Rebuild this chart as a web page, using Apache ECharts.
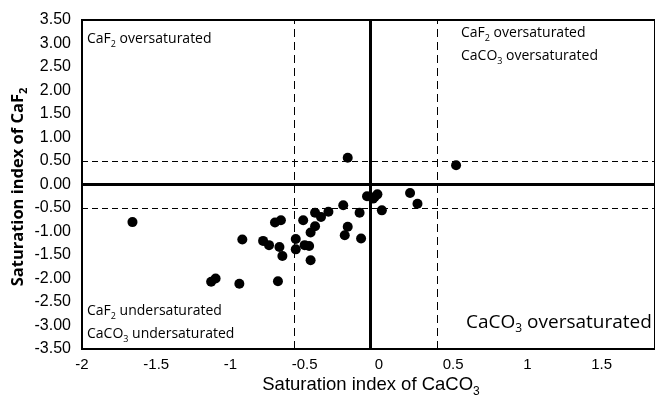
<!DOCTYPE html>
<html>
<head>
<meta charset="utf-8">
<style>
  html, body { margin: 0; padding: 0; background: #fff; }
  .chart { width: 655px; height: 403px; }
</style>
<script src="https://cdn.jsdelivr.net/npm/echarts@6.0.0/dist/echarts.min.js"></script>
</head>
<body>
<div class="chart"></div>
<script>
// saturation index of CaCO3 (x) and CaF2 (y)
var siCaCO3 = [-1.66, -0.21, 0.52, 0.21, 0.26, 0.02, -0.08, -0.04, -0.01, -0.03,
  -0.24, -0.13, -0.34, -0.39, -0.43, -0.51, -0.43, -0.46, -0.66, -0.70,
  -0.21, -0.23, -0.12, -0.92, -0.78, -0.74, -0.67, -0.56, -0.50, -0.47,
  -0.56, -0.65, -0.46, -0.68, -0.94, -1.13, -1.10];
var siCaF2 = [-0.80, 0.57, 0.41, -0.18, -0.41, -0.55, -0.25, -0.30, -0.21, -0.27,
  -0.44, -0.60, -0.58, -0.69, -0.60, -0.76, -0.89, -1.02, -0.76, -0.81,
  -0.90, -1.08, -1.15, -1.17, -1.20, -1.29, -1.33, -1.16, -1.29, -1.31,
  -1.38, -1.52, -1.61, -2.06, -2.11, -2.07, -2.00];
// guide lines
var vDashed = [-0.57, 0.39];
var vSolid = [-0.06];
var hDashed = [0.5, -0.5];
var hSolid = [0];
var xTicks = { min: -2, max: 1.86, step: 0.5 };
var yTicks = { min: -3.5, max: 3.5, step: 0.5 };

(function () {
  var myChart = echarts.init(document.querySelector('.chart'));
  var points = siCaCO3.map(function (v, i) { return [v, siCaF2[i]]; });

  var lines = [];
  vDashed.forEach(function (v) {
    lines.push({ xAxis: v, lineStyle: { color: '#000', width: 1, type: [8, 5] } });
  });
  hDashed.forEach(function (v) {
    lines.push({ yAxis: v, lineStyle: { color: '#000', width: 1, type: [6, 4] } });
  });
  vSolid.forEach(function (v) {
    lines.push({ xAxis: v, lineStyle: { color: '#000', width: 3, type: 'solid' } });
  });
  hSolid.forEach(function (v) {
    lines.push({ yAxis: v, lineStyle: { color: '#000', width: 3, type: 'solid' } });
  });

  // text styles for the quadrant notes (subscripts via rich text)
  var noteFont = "'Open Sans', sans-serif";
  var axisFont = "'Liberation Sans', Arial, sans-serif";
  function rich(size, font, weight) {
    return {
      n: { fontSize: size, fontFamily: font, fontWeight: weight, color: '#000', lineHeight: size + 6 },
      s: { fontSize: Math.round(size * 0.65), fontFamily: font, fontWeight: weight, color: '#000',
        verticalAlign: 'bottom', lineHeight: Math.round(size * 0.65) + 2 }
    };
  }
  function note(x, y, text, size) {
    return {
      type: 'text', left: x, top: y, silent: true,
      style: { text: text, rich: rich(size, noteFont, 'normal') }
    };
  }

  var option = {
    animation: false,
    grid: {
      left: 82,
      top: 20,
      right: -2,
      bottom: 54,
      show: true,
      borderColor: '#000',
      borderWidth: 2
    },
    xAxis: {
      type: 'value',
      min: xTicks.min,
      max: xTicks.max,
      interval: xTicks.step,
      axisLine: { show: true, onZero: false, lineStyle: { color: '#000', width: 2 } },
      axisTick: { show: false },
      splitLine: { show: false },
      axisLabel: {
        color: '#000',
        fontSize: 15,
        fontFamily: axisFont,
        margin: 8,
        showMaxLabel: false
      }
    },
    yAxis: {
      type: 'value',
      min: yTicks.min,
      max: yTicks.max,
      interval: yTicks.step,
      axisLine: { show: true, onZero: false, lineStyle: { color: '#000', width: 2 } },
      axisTick: { show: false },
      splitLine: { show: false },
      axisLabel: {
        color: '#000',
        fontSize: 16,
        fontFamily: axisFont,
        margin: 11,
        formatter: function (v) { return v.toFixed(2); }
      }
    },
    series: [{
      type: 'scatter',
      data: points,
      symbol: 'circle',
      symbolSize: 10,
      itemStyle: { color: '#000', opacity: 1 },
      markLine: {
        silent: true,
        symbol: 'none',
        label: { show: false },
        data: lines
      }
    }],
    graphic: [
      note(87, 32, '{n|CaF}{s|2}{n| oversaturated}', 14),
      note(461, 26, '{n|CaF}{s|2}{n| oversaturated}', 14),
      note(461, 49, '{n|CaCO}{s|3}{n| oversaturated}', 14),
      note(87, 304, '{n|CaF}{s|2}{n| undersaturated}', 14),
      note(87, 327, '{n|CaCO}{s|3}{n| undersaturated}', 14),
      note(466, 313, '{n|CaCO}{s|3}{n| oversaturated}', 19),
      {
        // x axis title
        type: 'text', x: 371, y: 385, silent: true,
        style: {
          text: '{n|Saturation index of CaCO}{s|3}',
          align: 'center', verticalAlign: 'middle',
          rich: rich(18.5, axisFont, 'normal')
        }
      },
      {
        // y axis title, rotated
        type: 'text', x: 18, y: 187, rotation: Math.PI / 2, silent: true,
        style: {
          text: '{n|Saturation index of CaF}{s|2}',
          align: 'center', verticalAlign: 'middle',
          rich: rich(16.5, noteFont, 'bold')
        }
      }
    ]
  };
  myChart.setOption(option);
  window.addEventListener('resize', function () {
    myChart.resize();
  });
})();
</script>
</body>
</html>
